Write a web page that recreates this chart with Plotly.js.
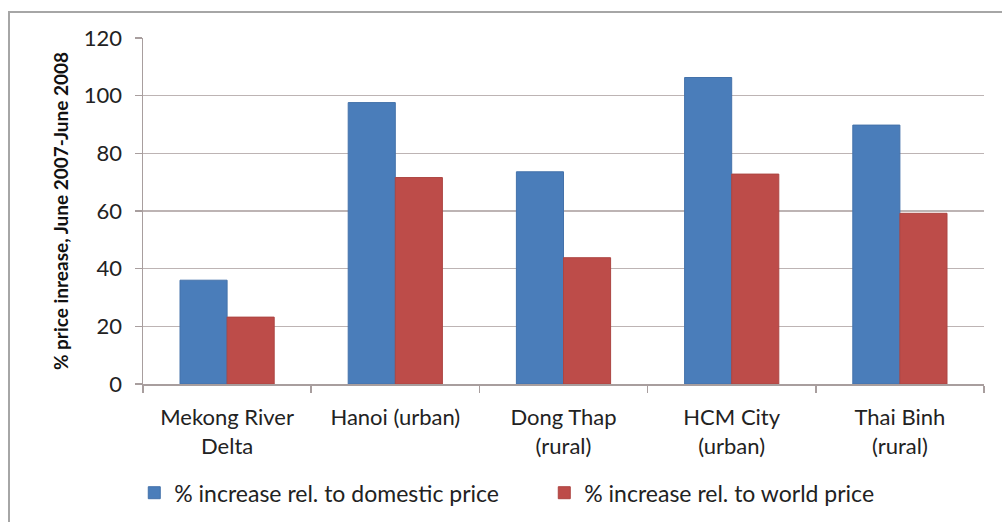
<!DOCTYPE html>
<html>
<head>
<meta charset="utf-8">
<script src="https://cdn.plot.ly/plotly-3.0.1.min.js"></script>
<style>
html,body{margin:0;padding:0;background:#fff;}
#wrap{position:relative;width:1002px;height:522px;overflow:hidden;}
#frame{position:absolute;left:8px;top:11px;width:1100px;height:600px;border-left:2px solid #a6a6a6;border-top:2px solid #a6a6a6;box-sizing:border-box;pointer-events:none;}
#chart{position:absolute;left:0;top:0;width:1002px;height:522px;}
</style>
</head>
<body>
<div id="wrap">
<div id="chart"></div>
<div id="frame"></div>
</div>
<script>
const categories = ["Mekong River<br>Delta", "Hanoi (urban)", "Dong Thap<br>(rural)", "HCM City<br>(urban)", "Thai Binh<br>(rural)"];
const domesticValues = [36, 97.6, 73.6, 106.3, 89.8];
const worldValues = [23.2, 71.6, 43.8, 72.8, 59.2];
const seriesNames = ["% increase rel. to domestic price", "% increase rel. to world price"];
const yTickValues = [0, 20, 40, 60, 80, 100, 120];
const yTitle = "% price inrease, June 2007-June 2008";

const font = "Lato, 'Open Sans', sans-serif";
const traces = [
  {type: "bar", name: seriesNames[0], x: categories, y: domesticValues,
   marker: {color: "#4a7dba", line: {color: "#4472aa", width: 1}}},
  {type: "bar", name: seriesNames[1], x: categories, y: worldValues,
   marker: {color: "#bd4c49", line: {color: "#ad4542", width: 1}}}
];
const layout = {
  width: 1002, height: 522,
  margin: {l: 143, r: 18, t: 38, b: 138},
  paper_bgcolor: "#ffffff", plot_bgcolor: "#ffffff",
  barmode: "group", bargap: 0.44, bargroupgap: 0,
  font: {family: font, size: 22, color: "#222"},
  showlegend: true,
  legend: {orientation: "h", xref: "container", x: 0.134, xanchor: "left",
           yref: "container", y: 0.056, yanchor: "middle",
           font: {family: font, size: 23, color: "#222"}, entrywidth: 365, traceorder: "normal"},
  xaxis: {type: "category", showline: true, linecolor: "#a89e9e", linewidth: 1.5,
          ticks: "outside", tickson: "boundaries", ticklen: 7, tickcolor: "#a89e9e", tickwidth: 1.5,
          ticklabelstandoff: 13, automargin: false,
          tickfont: {family: font, size: 22, color: "#222"}, showgrid: false, fixedrange: true},
  yaxis: {range: [0, 120], tickvals: yTickValues, ticktext: yTickValues.map(String),
          showline: true, linecolor: "#a89e9e", linewidth: 1.5,
          ticks: "outside", ticklen: 7, tickcolor: "#a89e9e", tickwidth: 1.5,
          ticklabelstandoff: 8, automargin: false,
          showgrid: true, gridcolor: "#bdb4b4", gridwidth: 1.5, zeroline: false,
          tickfont: {family: font, size: 22, color: "#222"},
          title: {text: yTitle, font: {family: font, size: 19, color: "#111", weight: "bold"}, standoff: 10},
          fixedrange: true}
};
Plotly.newPlot("chart", traces, layout, {displayModeBar: false, staticPlot: true});
</script>
</body>
</html>
